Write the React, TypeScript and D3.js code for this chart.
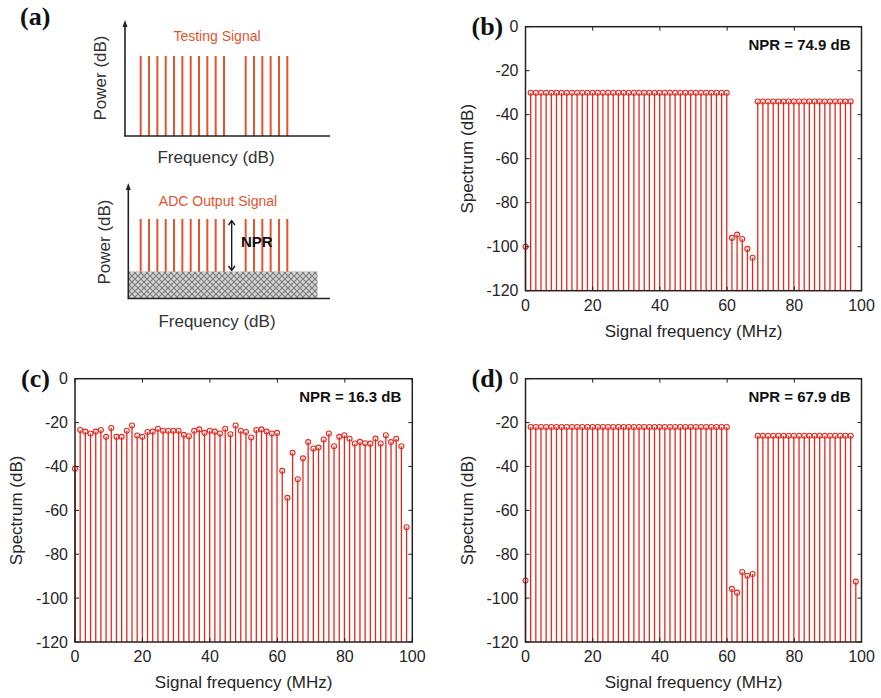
import React from 'react';
import * as d3 from 'd3';

// FFT bin grid of the NPR test (65 bins, 0 .. ~98 MHz)
const BIN_MHZ = 1.536;
const BIN_COUNT = 65;
const freqs: number[] = d3.range(BIN_COUNT).map((k) => k * BIN_MHZ);

// Spectrum (dB) per bin; null = below the plotted range
const specB: (number | null)[] = [
  -100,
  -30, -30, -30, -30, -30, -30, -30, -30, -30, -30,
  -30, -30, -30, -30, -30, -30, -30, -30, -30, -30,
  -30, -30, -30, -30, -30, -30, -30, -30, -30, -30,
  -30, -30, -30, -30, -30, -30, -30, -30, -30,
  -96, -94.5, -96.5, -101, -105,
  -34, -34, -34, -34, -34, -34, -34, -34, -34, -34,
  -34, -34, -34, -34, -34, -34, -34, -34, -34,
  null,
];

const specC: (number | null)[] = [
  -41,
  -23.4, -24.1, -25.0, -24.1, -23.4, -26.5, -22.5, -26.5, -26.5, -23.7,
  -21.3, -25.9, -26.5, -24.3, -24.1, -22.8, -23.7, -23.7, -23.7, -23.7,
  -25.6, -26.2, -23.7, -23.1, -24.7, -23.7, -24.1, -25.0, -22.8, -25.3,
  -21.3, -23.7, -24.3, -26.8, -23.4, -23.1, -24.1, -25.0, -24.7,
  -42.0, -54.3, -33.8, -45.8, -36.3,
  -28.9, -31.8, -31.4, -27.7, -25.0, -30.8, -26.5, -25.8, -27.4, -29.5,
  -28.8, -29.4, -29.6, -27.3, -29.5, -25.8, -28.9, -27.4, -30.8,
  -67.7,
];

const specD: (number | null)[] = [
  -92,
  -22, -22, -22, -22, -22, -22, -22, -22, -22, -22,
  -22, -22, -22, -22, -22, -22, -22, -22, -22, -22,
  -22, -22, -22, -22, -22, -22, -22, -22, -22, -22,
  -22, -22, -22, -22, -22, -22, -22, -22, -22,
  -95.8, -97.5, -88.1, -89.8, -89.0,
  -26, -26, -26, -26, -26, -26, -26, -26, -26, -26,
  -26, -26, -26, -26, -26, -26, -26, -26, -26,
  -92.5,
];

const xTicks = [0, 20, 40, 60, 80, 100];
const yTicks = [0, -20, -40, -60, -80, -100, -120];

// Tone slots of the schematic in panel (a)
const toneSlots = [0, 1, 2, 3, 4, 5, 6, 7, 8, 9, 10, 12.6, 13.6, 14.6, 15.6, 16.6, 17.6];

const RED = '#e5281e';
const TONE = '#e0552f';
const AXIS = '#222';
const SANS = 'Liberation Sans, Arial, Helvetica, sans-serif';
const SERIF = 'Liberation Serif, Times New Roman, serif';

type PanelProps = {
  label: string;
  left: number;
  right: number;
  top: number;
  bottom: number;
  data: (number | null)[];
  npr: string;
};

function SpectrumPanel({ label, left, right, top, bottom, data, npr }: PanelProps) {
  const x = d3.scaleLinear().domain([0, 100]).range([left, right]);
  const y = d3.scaleLinear().domain([-120, 0]).range([bottom, top]);
  const tk = 4;
  const points = freqs
    .map((f, i) => ({ f, v: data[i] }))
    .filter((p) => p.v !== null && (p.v as number) >= -120) as { f: number; v: number }[];
  return (
    <g>
      <text x={left - 54} y={top + 8} fontFamily={SERIF} fontWeight="bold" fontSize={26} fill="#111">
        {label}
      </text>
      {/* stems */}
      {points.map((p, i) => (
        <line key={'s' + i} x1={x(p.f)} x2={x(p.f)} y1={y(-120)} y2={y(p.v)} stroke={RED} strokeWidth={1.3} />
      ))}
      {points.map((p, i) => (
        <circle key={'m' + i} cx={x(p.f)} cy={y(p.v)} r={2.5} fill="none" stroke={RED} strokeWidth={1.1} />
      ))}
      {/* box */}
      <rect x={left} y={top} width={right - left} height={bottom - top} fill="none" stroke={AXIS} strokeWidth={1.5} />
      {xTicks.map((t) => (
        <g key={'xt' + t}>
          <line x1={x(t)} x2={x(t)} y1={bottom} y2={bottom - tk} stroke={AXIS} />
          <line x1={x(t)} x2={x(t)} y1={top} y2={top + tk} stroke={AXIS} />
          <text x={x(t)} y={bottom + 20} textAnchor="middle" fontFamily={SANS} fontSize={16} fill="#262626">
            {t}
          </text>
        </g>
      ))}
      {yTicks.map((t) => (
        <g key={'yt' + t}>
          <line x1={left} x2={left + tk} y1={y(t)} y2={y(t)} stroke={AXIS} />
          <line x1={right} x2={right - tk} y1={y(t)} y2={y(t)} stroke={AXIS} />
          <text x={left - 7} y={y(t) + 5.5} textAnchor="end" fontFamily={SANS} fontSize={16} fill="#262626">
            {t}
          </text>
        </g>
      ))}
      <text
        x={(left + right) / 2}
        y={bottom + 46}
        textAnchor="middle"
        fontFamily={SANS}
        fontSize={17}
        fill="#262626"
      >
        Signal frequency (MHz)
      </text>
      <text
        transform={`translate(${left - 53},${(top + bottom) / 2}) rotate(-90)`}
        textAnchor="middle"
        fontFamily={SANS}
        fontSize={17}
        fill="#262626"
      >
        Spectrum (dB)
      </text>
      <text x={right - 11} y={top + 23} textAnchor="end" fontFamily={SANS} fontWeight="bold" fontSize={15} fill="#111">
        {npr}
      </text>
    </g>
  );
}

function Schematic() {
  const sx = d3.scaleLinear().domain([0, 1]).range([140.7, 149.03]);
  return (
    <g>
      <defs>
        <pattern id="noiseHatch" width={6} height={6} patternUnits="userSpaceOnUse">
          <rect width={6} height={6} fill="#d4d4d4" />
          <path d="M0,0 L6,6 M6,0 L0,6" stroke="#7c7c7c" strokeWidth={1.1} />
        </pattern>
      </defs>
      <text x={20} y={25} fontFamily={SERIF} fontWeight="bold" fontSize={26} fill="#111">
        (a)
      </text>

      {/* upper sketch: test signal */}
      {toneSlots.map((s, i) => (
        <line key={'t' + i} x1={sx(s)} x2={sx(s)} y1={56} y2={136} stroke={TONE} strokeWidth={2} />
      ))}
      <line x1={125} x2={125} y1={136} y2={26} stroke={AXIS} strokeWidth={1.6} />
      <path d="M125,20 L122.5,27 L127.5,27 Z" fill={AXIS} />
      <line x1={124} x2={330} y1={136} y2={136} stroke={AXIS} strokeWidth={1.6} />
      <text x={217} y={41} textAnchor="middle" fontFamily={SANS} fontSize={14} fill={TONE}>
        Testing Signal
      </text>
      <text transform="translate(106,78) rotate(-90)" textAnchor="middle" fontFamily={SANS} fontSize={17} fill="#333">
        Power (dB)
      </text>
      <text x={216} y={163} textAnchor="middle" fontFamily={SANS} fontSize={17} fill="#333">
        Frequency (dB)
      </text>

      {/* lower sketch: ADC output with noise floor */}
      {toneSlots.map((s, i) => (
        <line key={'o' + i} x1={sx(s)} x2={sx(s)} y1={219} y2={272} stroke={TONE} strokeWidth={2} />
      ))}
      <rect x={128.5} y={271.5} width={189} height={27} fill="url(#noiseHatch)" />
      <line x1={128.3} x2={128.3} y1={298} y2={189} stroke={AXIS} strokeWidth={1.6} />
      <path d="M128.3,183 L125.8,190 L130.8,190 Z" fill={AXIS} />
      <line x1={127.5} x2={330} y1={298.5} y2={298.5} stroke={AXIS} strokeWidth={1.6} />
      <line x1={231.7} x2={231.7} y1={221} y2={270} stroke="#111" strokeWidth={1.3} />
      <path d="M228.5,225 L231.7,220.5 L234.9,225" fill="none" stroke="#111" strokeWidth={1.3} />
      <path d="M228.5,266 L231.7,270.5 L234.9,266" fill="none" stroke="#111" strokeWidth={1.3} />
      <text x={241} y={247} fontFamily={SANS} fontWeight="bold" fontSize={15} fill="#111">
        NPR
      </text>
      <text x={218} y={206} textAnchor="middle" fontFamily={SANS} fontSize={14} fill={TONE}>
        ADC Output Signal
      </text>
      <text transform="translate(110,242) rotate(-90)" textAnchor="middle" fontFamily={SANS} fontSize={17} fill="#333">
        Power (dB)
      </text>
      <text x={217} y={327} textAnchor="middle" fontFamily={SANS} fontSize={17} fill="#333">
        Frequency (dB)
      </text>
    </g>
  );
}

export default function App() {
  return (
    <svg
      width={881}
      height={698}
      viewBox="0 0 881 698"
      style={{ position: 'absolute', left: 0, top: 0, background: '#fff' }}
    >
      <rect width={881} height={698} fill="#fff" />
      <Schematic />
      <SpectrumPanel label="(b)" left={525.5} right={861.5} top={26.7} bottom={290.7} data={specB} npr="NPR = 74.9 dB" />
      <SpectrumPanel label="(c)" left={75} right={412.3} top={378.7} bottom={642} data={specC} npr="NPR = 16.3 dB" />
      <SpectrumPanel label="(d)" left={525.5} right={861.5} top={378.7} bottom={642} data={specD} npr="NPR = 67.9 dB" />
    </svg>
  );
}
